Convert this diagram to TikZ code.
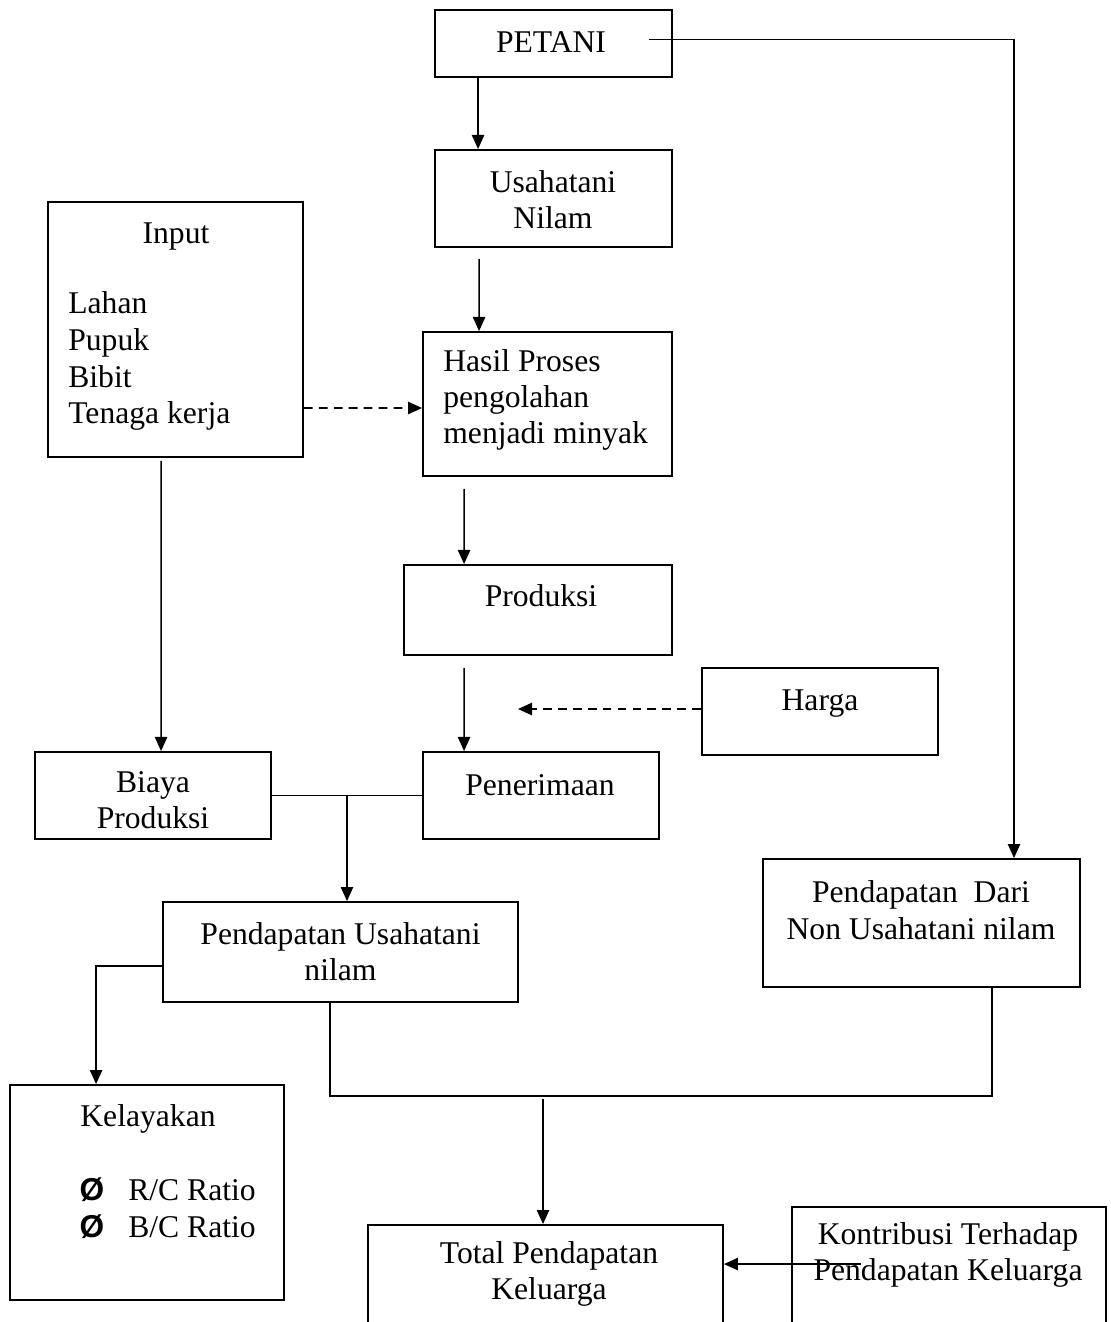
\documentclass[tikz,border=0pt]{standalone}
\usepackage{fontspec}
\setmainfont{Liberation Serif}
\setsansfont{Liberation Sans}
\usetikzlibrary{arrows.meta,calc}

\tikzset{
  box/.style={draw, line width=1.1pt, inner sep=0pt},
  lbl/.style={inner sep=0pt, align=center, font=\fontsize{18}{20.7}\selectfont},
  one/.style={text height=12pt, text depth=0pt},
  arr/.style={line width=0.9pt, -{Triangle[length=8pt,width=7pt]}},
  dasharr/.style={arr, line width=1.1pt, dash pattern=on 5pt off 3.5pt}
}

\begin{document}
\begin{tikzpicture}[x=0.02cm, y=-0.02cm]
\useasboundingbox (0,0) rectangle (1111,1322);
% boxes
\node[box, minimum width=4.74cm, minimum height=1.34cm] (petani) at (553.5,43.5) {};
\node[box, minimum width=4.74cm, minimum height=1.94cm] (usaha) at (553.5,198.5) {};
\node[box, minimum width=5.10cm, minimum height=5.10cm] (input) at (175.5,329.5) {};
\node[box, minimum width=4.98cm, minimum height=2.88cm] (hasil) at (547.5,404) {};
\node[box, minimum width=5.36cm, minimum height=1.80cm] (produksi) at (538,610) {};
\node[box, minimum width=4.72cm, minimum height=1.74cm] (harga) at (820,711.5) {};
\node[box, minimum width=4.72cm, minimum height=1.74cm] (biaya) at (153,795.5) {};
\node[box, minimum width=4.72cm, minimum height=1.74cm] (terima) at (541,795.5) {};
\node[box, minimum width=6.34cm, minimum height=2.56cm] (nonusaha) at (921.5,923) {};
\node[box, minimum width=7.10cm, minimum height=2.00cm] (pendusaha) at (340.5,952) {};
\node[box, minimum width=5.48cm, minimum height=4.30cm] (layak) at (147,1192.5) {};
\node[box, minimum width=7.10cm, minimum height=2.40cm] (total) at (545.5,1285) {};
\node[box, minimum width=6.28cm, minimum height=2.76cm] (kontrib) at (949,1276) {};

% texts
\node[lbl, one] (petani-t) at (551,42) {PETANI};
\node[lbl] (usaha-t) at (553,199.5) {Usahatani\\Nilam};
\node[lbl, one] (input-t) at (176,233) {Input};
\node[lbl, align=left, anchor=west, font=\fontsize{18}{21}\selectfont] (input-l) at (68,361)
  {Lahan\\Pupuk\\Bibit\\Tenaga kerja};
\node[lbl, align=left, anchor=west] (hasil-t) at (443,400)
  {Hasil Proses\\pengolahan\\menjadi minyak};
\node[lbl, one] (produksi-t) at (541,596) {Produksi};
\node[lbl, one] (harga-t) at (820,700) {Harga};
\node[lbl] (biaya-t) at (153,800) {Biaya\\Produksi};
\node[lbl, one] (terima-t) at (540,785) {Penerimaan};
\node[lbl] (nonusaha-t) at (921,910) {Pendapatan\ \ Dari\\Non Usahatani nilam};
\node[lbl] (pendusaha-t) at (340.5,951.5) {Pendapatan Usahatani\\nilam};
\node[lbl, one] (layak-t) at (148,1116) {Kelayakan};
\node[lbl, one, font=\fontsize{18}{20.7}\sffamily\bfseries] (rc-b) at (92,1190) {Ø};
\node[lbl, one, font=\fontsize{18}{20.7}\sffamily\bfseries] (bc-b) at (92,1227) {Ø};
\node[lbl, one, anchor=west] (rc-t) at (128,1190) {R/C Ratio};
\node[lbl, one, anchor=west] (bc-t) at (128,1227) {B/C Ratio};
\node[lbl] (total-t) at (549,1274) {Total Pendapatan\\Keluarga};
\node[lbl] (kontrib-t) at (948,1255) {Kontribusi Terhadap\\Pendapatan Keluarga};

% connectors
\draw[arr] ($(petani.east)+(-24,-4)$) -| ($(nonusaha.north)+(92.5,0)$);
\draw[arr] ($(petani.south west)+(44,0)$) -- ($(usaha.north west)+(44,0)$);
\draw[arr] ($(usaha.south west)+(45,11)$) -- ($(hasil.north west)+(57,0)$);
\draw[dasharr] ($(input.east)+(0,78.5)$) -- ($(hasil.west)+(0,4)$);
\draw[arr] ($(hasil.south west)+(42,12)$) -- ($(produksi.north west)+(61,0)$);
\draw[arr] ($(produksi.south west)+(61,12)$) -- ($(terima.north west)+(42,0)$);
\coordinate (hargaend) at (518,709);
\draw[dasharr] (harga.west |- hargaend) -- (hargaend);
\draw[arr] ($(input.south west)+(114,3)$) -- ($(biaya.north west)+(127,0)$);
\draw[line width=0.9pt] (biaya.east) -- (terima.west);
\coordinate (join) at ($(biaya.east)!0.5!(terima.west)$);
\draw[arr] (join) -- (join |- pendusaha.north);
\draw[arr] ($(pendusaha.west)+(0,14)$) -| ($(layak.north west)+(87,0)$);
\draw[line width=0.9pt] ($(pendusaha.south west)+(168,0)$) |- ($(nonusaha.south west)+(230,108)$)
  -- ($(nonusaha.south west)+(230,0)$);
\coordinate (sumpt) at (543,1099);
\draw[arr] (sumpt) -- (sumpt |- total.north);
\coordinate (kstart) at ($(kontrib.north west)+(70,58)$);
\draw[arr] (kstart) -- (kstart -| total.east);
\end{tikzpicture}
\end{document}
